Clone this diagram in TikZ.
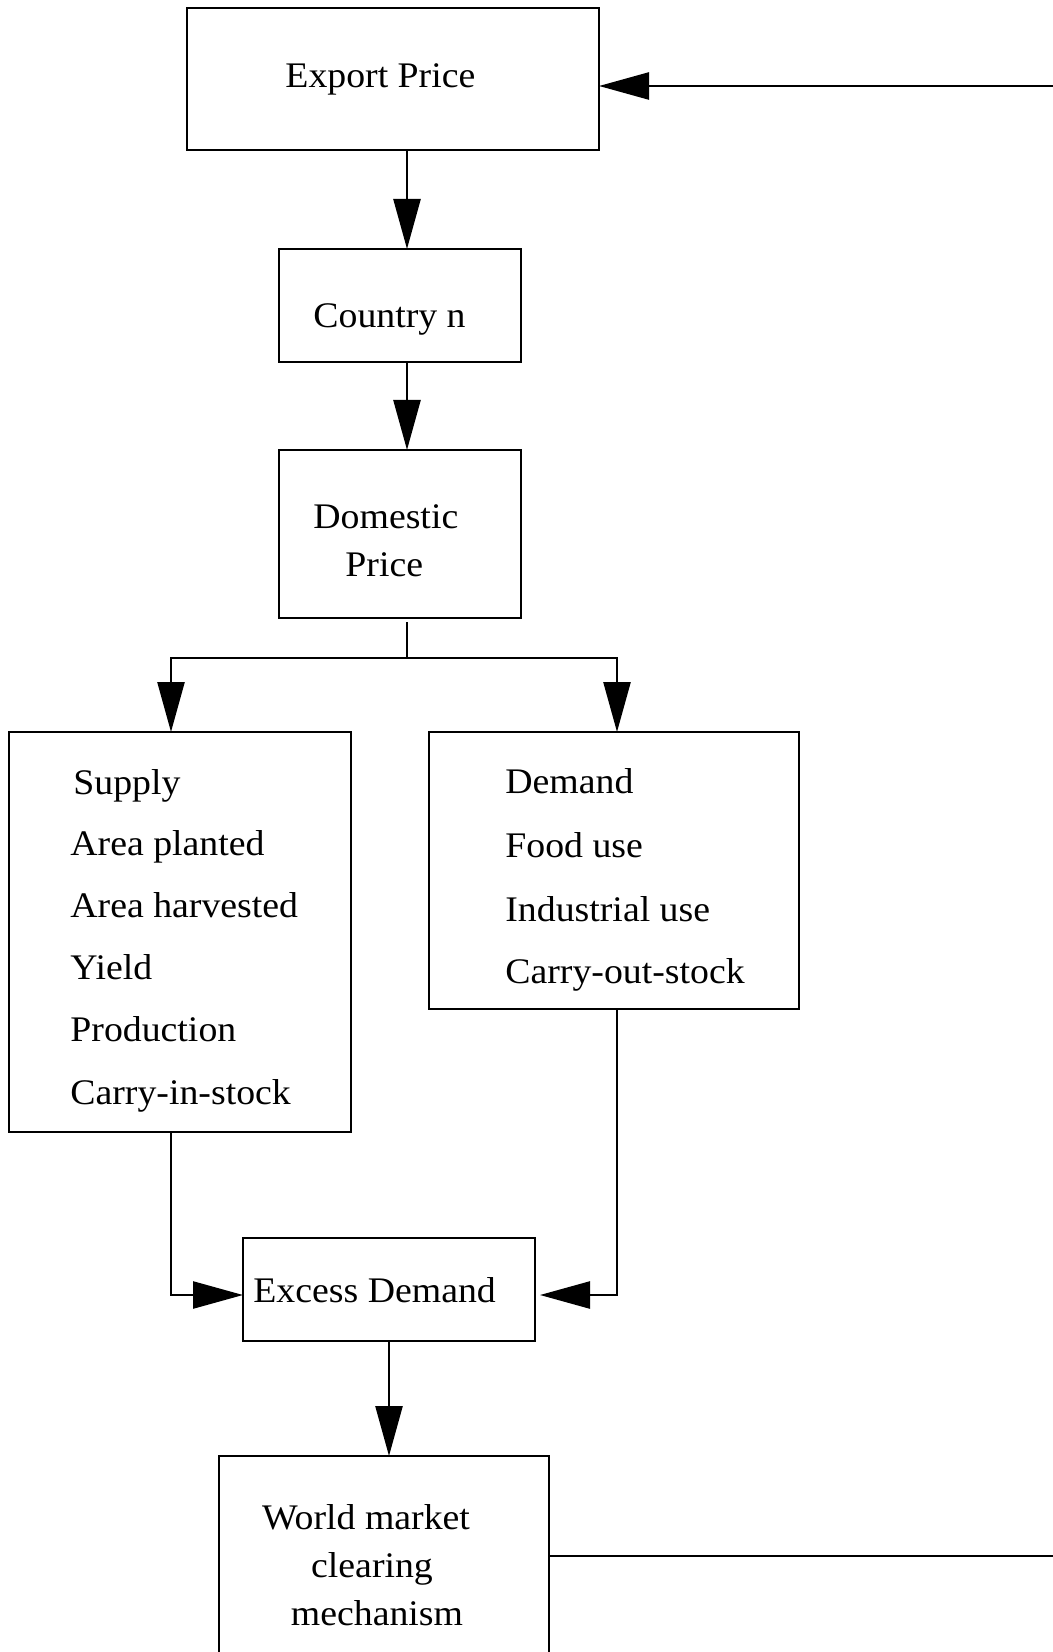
\documentclass[tikz,border=0pt]{standalone}
\usepackage{fontspec}
\setmainfont{Liberation Serif}[FakeStretch=1.05]
\usetikzlibrary{arrows.meta}
\begin{document}
\begin{tikzpicture}[x=0.5pt,y=-0.5pt,
  box/.style={draw,line width=1.25pt,inner sep=0pt,outer sep=0pt},
  lbl/.style={inner sep=0pt,anchor=base west,font=\fontsize{18}{20}\selectfont},
  clbl/.style={inner sep=0pt,anchor=base,font=\fontsize{18}{20}\selectfont},
  conn/.style={line width=1.25pt},
  arr/.style={line width=1.25pt,-{Triangle[length=25pt,width=13.5pt]}}]
\useasboundingbox (0,0) rectangle (1053,1652);
\clip (0,0) rectangle (1053,1652);
% boxes
\node[box,minimum width=206pt,minimum height=71pt] (export) at (393,79) {};
\node[box,minimum width=121pt,minimum height=56.5pt] (country) at (400,305.5) {};
\node[box,minimum width=121pt,minimum height=84pt] (domestic) at (400,534) {};
\node[box,minimum width=171pt,minimum height=200pt] (supply) at (180,932) {};
\node[box,minimum width=185pt,minimum height=138.5pt] (demand) at (614,870.5) {};
\node[box,minimum width=146pt,minimum height=51.5pt] (excess) at (389,1289.5) {};
\node[box,minimum width=165pt,minimum height=100pt] (world) at (384,1556) {};
% texts
\node[lbl] (t-export) at (285,88) {Export Price};
\node[lbl] (t-country) at (313,328) {Country n};
\node[lbl] (t-dom1) at (313,528) {Domestic};
\node[lbl] (t-dom2) at (345,576) {Price};
\node[lbl] (t-s1) at (73,794) {Supply};
\node[lbl] (t-s2) at (70,855) {Area planted};
\node[lbl] (t-s3) at (70,917) {Area harvested};
\node[lbl] (t-s4) at (70,979) {Yield};
\node[lbl] (t-s5) at (70,1041) {Production};
\node[lbl] (t-s6) at (70,1104) {Carry-in-stock};
\node[lbl] (t-d1) at (505,793) {Demand};
\node[lbl] (t-d2) at (505,857) {Food use};
\node[lbl] (t-d3) at (505,921) {Industrial use};
\node[lbl] (t-d4) at (505,983) {Carry-out-stock};
\node[lbl] (t-excess) at (253,1302) {Excess Demand};
\node[clbl] (t-w1) at (366,1529) {World market};
\node[clbl] (t-w2) at (372,1577) {clearing};
\node[clbl] (t-w3) at (377,1625) {mechanism};
% helper coordinates
\coordinate (ax) at (407,0);
\coordinate (branch) at (407,658);
\coordinate (sx) at (171,0);
\coordinate (dx) at (617,0);
\coordinate (ey) at (0,1295);
\coordinate (dtip) at (540,1295);
\coordinate (wx) at (389,0);
\coordinate (fb) at (1080,86);
% connectors
\draw[arr] (ax |- export.south) -- (ax |- country.north);
\draw[arr] (ax |- country.south) -- (ax |- domestic.north);
\draw[conn] ([yshift=-2pt]ax |- domestic.south) -- (branch);
\draw[arr] (branch) -| (sx |- supply.north);
\draw[arr] (branch) -| (dx |- demand.north);
\draw[arr] (sx |- supply.south) |- (excess.west |- ey);
\draw[arr] (dx |- demand.south) |- (dtip);
\draw[arr] (wx |- excess.south) -- (wx |- world.north);
\draw[arr] (world.east) -| (fb) -- (fb -| export.east);
\end{tikzpicture}
\end{document}
